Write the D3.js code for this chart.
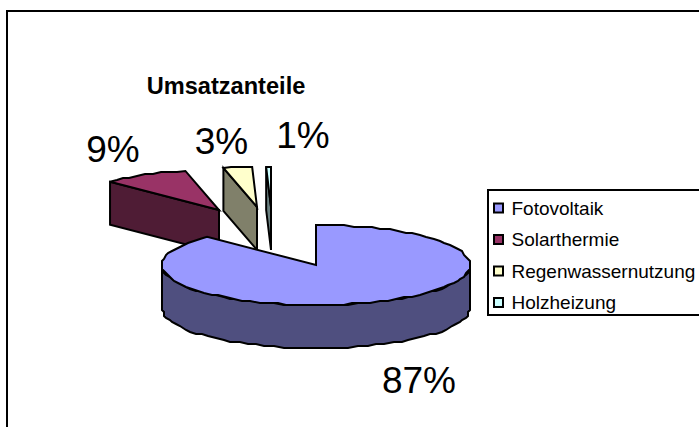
<!DOCTYPE html>
<html><head><meta charset="utf-8">
<script src="https://cdn.jsdelivr.net/npm/d3@7/dist/d3.min.js"></script>
<style>html,body{margin:0;padding:0;background:#fff}svg{display:block}text{font-family:"Liberation Sans",Arial,sans-serif;fill:#000}</style>
</head><body><svg id="c" width="699" height="427"></svg>
<script>
const categories = ["Fotovoltaik","Solarthermie","Regenwassernutzung","Holzheizung"];
const values = [87.49, 9.01, 3.0, 0.5];
const titleText = "Umsatzanteile";
const topColors = ["#9999ff","#993366","#ffffcc","#ccffff"];
const sideColors = ["#4f4f7f","#4f1c35","#80806a","#6a8080"];

const W=699,H=427, cx=316, cy=265, rx=154, ry=40, depth=43, grid=2;
// how far each wedge is pulled out of the pie
const explode=[[0,0],[-97,-55],[-59,-58],[-45,-58]];
// where each percentage label sits
const labelPos=[[419,393],[113,162],[221.5,154],[303,148]];

const svg=d3.select("#c");
const total=d3.sum(values);
const pct=v=>Math.round(v/total*100)+"%";
const arcs=d3.pie().sort(null).value(d=>d)(values);
const sx=d3.scaleLinear().domain([-1,1]).range([-rx,rx]);
const sy=d3.scaleLinear().domain([-1,1]).range([ry,-ry]);
const rough=v=>Math.round(v/grid)*grid;
const pt=a=>[sx(Math.sin(a)),sy(Math.cos(a))];
const line=d3.line();
function rim(a0,a1){
  const n=Math.max(2,Math.ceil((a1-a0)*Math.hypot(rx,ry)/1.1/9));
  return d3.range(n+1).map(i=>{
    const p=pt(a0+(a1-a0)*i/n);
    return (i===0||i===n)?p:[rough(p[0]),rough(p[1])];
  });
}
const S={stroke:"#000","stroke-width":2,"stroke-linejoin":"miter"};
function poly(g,pts,fill){
  const s=g.append("path").attr("d",line(pts)+"Z").attr("fill",fill);
  Object.entries(S).forEach(([k,v])=>s.attr(k,v));
}
// frame
svg.append("rect").attr("x",7).attr("y",11).attr("width",W+20).attr("height",H+20).attr("fill","#fff").attr("stroke","#000").attr("stroke-width",2);

// draw order: exploded wedges first, main pie last
[1,2,3,0].forEach(i=>{
  const a=arcs[i], [ox,oy]=explode[i];
  const g=svg.append("g").attr("transform",`translate(${cx+ox},${cy+oy})`);
  const r=rim(a.startAngle,a.endAngle);
  if(i===0){
    const wall=rim(Math.PI/2,3*Math.PI/2);
    poly(g,wall.concat(wall.slice().reverse().map(p=>[p[0],p[1]+depth])),sideColors[i]);
  } else if(i===1){
    const e=pt(a.startAngle);
    poly(g,[[0,0],e,[e[0],e[1]+depth],[0,depth]],sideColors[i]);
  } else {
    const s=pt(a.startAngle);
    poly(g,[s,[0,0],[0,depth],[s[0],s[1]+depth]],sideColors[i]);
  }
  poly(g,[[0,0]].concat(r),topColors[i]);
});

// title and percentage labels
svg.append("text").attr("x",226).attr("y",94).attr("text-anchor","middle").attr("font-size",23.6).attr("font-weight","bold").text(titleText);
values.forEach((v,i)=>{
  svg.append("text").attr("x",labelPos[i][0]).attr("y",labelPos[i][1]).attr("text-anchor","middle").attr("font-size",37).text(pct(v));
});

// legend
const lx=488, ly=190, lw=230, lh=125;
svg.append("rect").attr("x",lx).attr("y",ly).attr("width",lw).attr("height",lh).attr("fill","#fff").attr("stroke","#000").attr("stroke-width",2);
const ys=d3.scalePoint().domain(categories).range([208,302.5]);
categories.forEach((c,i)=>{
  svg.append("rect").attr("x",494).attr("y",ys(c)-4.5).attr("width",9).attr("height",9).attr("fill",topColors[i]).attr("stroke","#000").attr("stroke-width",2);
  svg.append("text").attr("x",511.5).attr("y",ys(c)+6.8).attr("font-size",19).text(c);
});
</script></body></html>
